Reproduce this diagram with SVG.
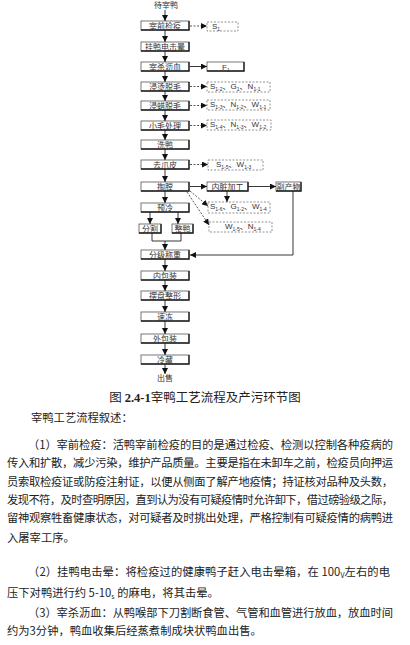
<svg xmlns="http://www.w3.org/2000/svg" width="410" height="645" viewBox="0 0 410 645">
<defs>
<marker id="a" markerUnits="userSpaceOnUse" markerWidth="6" markerHeight="6" refX="6" refY="3" orient="auto"><path d="M0,0 L6,3 L0,6 z" fill="#111"/></marker>
</defs>
<style>
.b{fill:#fff;stroke:#555;stroke-width:0.8}
.sh{fill:none;stroke:#222;stroke-width:1.4}
.d{fill:#fff;stroke:#777;stroke-width:0.8;stroke-dasharray:2,1.5}
.t{font-family:"Noto Sans CJK SC","Noto Sans",sans-serif;font-size:8px;fill:#333;text-anchor:middle}
.e{font-family:"Liberation Sans","Noto Sans CJK SC",sans-serif;font-size:8px;fill:#333}
.s{font-size:5px}
.l{fill:none;stroke:#222;stroke-width:0.9}
.dl{fill:none;stroke:#444;stroke-width:0.9;stroke-dasharray:2,1.5}
.p{font-family:"Noto Sans CJK SC","Liberation Serif",sans-serif;font-size:11.3px;fill:#222}
</style>
<text class="t" x="166" y="8">待宰鸭</text>
<g id="n1"><rect class="b" x="141" y="21" width="48" height="9"/><path class="sh" d="M141,30 H189 V21"/><text class="t" x="165" y="28.5">宰前检疫</text></g>
<g id="n2"><rect class="b" x="141" y="42" width="48" height="9"/><path class="sh" d="M141,51 H189 V42"/><text class="t" x="165" y="49.5">挂鸭电击晕</text></g>
<g id="n3"><rect class="b" x="141" y="62" width="48" height="9"/><path class="sh" d="M141,71 H189 V62"/><text class="t" x="165" y="69.5">宰杀沥血</text></g>
<g id="n4"><rect class="b" x="141" y="82" width="48" height="9"/><path class="sh" d="M141,91 H189 V82"/><text class="t" x="165" y="89.5">浸烫脱毛</text></g>
<g id="n5"><rect class="b" x="141" y="101" width="48" height="9"/><path class="sh" d="M141,110 H189 V101"/><text class="t" x="165" y="108.5">浸蜡脱毛</text></g>
<g id="n6"><rect class="b" x="141" y="121" width="48" height="9"/><path class="sh" d="M141,130 H189 V121"/><text class="t" x="165" y="128.5">小毛处理</text></g>
<g id="n7"><rect class="b" x="141" y="140" width="48" height="9"/><path class="sh" d="M141,149 H189 V140"/><text class="t" x="165" y="147.5">洗鸭</text></g>
<g id="n8"><rect class="b" x="141" y="160" width="48" height="9"/><path class="sh" d="M141,169 H189 V160"/><text class="t" x="165" y="167.5">去爪皮</text></g>
<g id="n9"><rect class="b" x="141" y="182" width="48" height="9"/><path class="sh" d="M141,191 H189 V182"/><text class="t" x="165" y="189.5">掏膛</text></g>
<g id="n10"><rect class="b" x="141" y="203" width="48" height="9"/><path class="sh" d="M141,212 H189 V203"/><text class="t" x="165" y="210.5">预冷</text></g>
<g id="n11"><rect class="b" x="139" y="224" width="22" height="9"/><path class="sh" d="M139,233 H161 V224"/><text class="t" x="150" y="231.5">分割</text></g>
<g id="n12"><rect class="b" x="172" y="224" width="21" height="9"/><path class="sh" d="M172,233 H193 V224"/><text class="t" x="182.5" y="231.5">整鸭</text></g>
<g id="n13"><rect class="b" x="141" y="250" width="48" height="9"/><path class="sh" d="M141,259 H189 V250"/><text class="t" x="165" y="257.5">分级称重</text></g>
<g id="n14"><rect class="b" x="141" y="271" width="48" height="9"/><path class="sh" d="M141,280 H189 V271"/><text class="t" x="165" y="278.5">内包装</text></g>
<g id="n15"><rect class="b" x="141" y="291" width="48" height="9"/><path class="sh" d="M141,300 H189 V291"/><text class="t" x="165" y="298.5">摆盘整形</text></g>
<g id="n16"><rect class="b" x="141" y="312" width="48" height="9"/><path class="sh" d="M141,321 H189 V312"/><text class="t" x="165" y="319.5">速冻</text></g>
<g id="n17"><rect class="b" x="141" y="334" width="48" height="9"/><path class="sh" d="M141,343 H189 V334"/><text class="t" x="165" y="341.5">外包装</text></g>
<g id="n18"><rect class="b" x="141" y="355" width="48" height="9"/><path class="sh" d="M141,364 H189 V355"/><text class="t" x="165" y="362.5">冷藏</text></g>
<text class="t" x="165" y="381">出售</text>
<g id="e1"><rect class="d" x="207" y="22" width="31" height="9"/><text class="e" x="212" y="29">S<tspan class="s" dy="2">1</tspan></text></g>
<g id="f1"><rect class="b" x="207" y="62" width="37" height="9"/><path class="sh" d="M207,71 H244 V62"/><text class="e" x="222" y="69.5">F<tspan class="s" dy="2">1</tspan></text></g>
<g id="e3"><rect class="d" x="207" y="82" width="63" height="10"/><text class="e" x="210" y="89">S<tspan class="s" dy="2">1-2</tspan><tspan dy="-2">、G</tspan><tspan class="s" dy="2">1</tspan><tspan dy="-2">、N</tspan><tspan class="s" dy="2">1-1</tspan></text></g>
<g id="e4"><rect class="d" x="207" y="100" width="63" height="10"/><text class="e" x="210" y="107">S<tspan class="s" dy="2">1-3</tspan><tspan dy="-2">、N</tspan><tspan class="s" dy="2">1-2</tspan><tspan dy="-2">、W</tspan><tspan class="s" dy="2">1-1</tspan></text></g>
<g id="e5"><rect class="d" x="207" y="120" width="64" height="10"/><text class="e" x="210" y="127">S<tspan class="s" dy="2">1-4</tspan><tspan dy="-2">、N</tspan><tspan class="s" dy="2">1-3</tspan><tspan dy="-2">、W</tspan><tspan class="s" dy="2">1-2</tspan></text></g>
<g id="e6"><rect class="d" x="208" y="160" width="55" height="10"/><text class="e" x="216" y="167">S<tspan class="s" dy="2">1-5</tspan><tspan dy="-2">、W</tspan><tspan class="s" dy="2">1-3</tspan></text></g>
<g id="n19"><rect class="b" x="207" y="182" width="41" height="9"/><path class="sh" d="M207,191 H248 V182"/><text class="t" x="227.5" y="189.5">内脏加工</text></g>
<g id="n20"><rect class="b" x="276" y="182" width="25" height="9"/><path class="sh" d="M276,191 H301 V182"/><text class="t" x="288.5" y="189.5">副产物</text></g>
<g id="e7"><rect class="d" x="208" y="202" width="62" height="11"/><text class="e" x="210" y="209">S<tspan class="s" dy="2">1-6</tspan><tspan dy="-2">、G</tspan><tspan class="s" dy="2">1-2</tspan><tspan dy="-2">、W</tspan><tspan class="s" dy="2">1-4</tspan></text></g>
<g id="e8"><rect class="d" x="209" y="222" width="63" height="10"/><text class="e" x="225" y="229">W<tspan class="s" dy="2">1-5</tspan><tspan dy="-2">、N</tspan><tspan class="s" dy="2">1-4</tspan></text></g>
<g id="connectors">
<path class="l" marker-end="url(#a)" d="M165,10 V21"/>
<path class="l" marker-end="url(#a)" d="M165,30 V42"/>
<path class="l" marker-end="url(#a)" d="M165,51 V62"/>
<path class="l" marker-end="url(#a)" d="M165,71 V82"/>
<path class="l" marker-end="url(#a)" d="M165,91 V101"/>
<path class="l" marker-end="url(#a)" d="M165,110 V121"/>
<path class="l" marker-end="url(#a)" d="M165,130 V140"/>
<path class="l" marker-end="url(#a)" d="M165,149 V160"/>
<path class="l" marker-end="url(#a)" d="M165,169 V182"/>
<path class="l" marker-end="url(#a)" d="M165,191 V203"/>
<path class="l" marker-end="url(#a)" d="M150,212 V224"/>
<path class="l" marker-end="url(#a)" d="M178,212 V224"/>
<path class="l" d="M152,233 V241 H181 V233"/>
<path class="l" marker-end="url(#a)" d="M165,241 V250"/>
<path class="l" marker-end="url(#a)" d="M165,259 V271"/>
<path class="l" marker-end="url(#a)" d="M165,280 V291"/>
<path class="l" marker-end="url(#a)" d="M165,300 V312"/>
<path class="l" marker-end="url(#a)" d="M165,321 V334"/>
<path class="l" marker-end="url(#a)" d="M165,343 V355"/>
<path class="l" marker-end="url(#a)" d="M165,364 V374"/>
<path class="dl" marker-end="url(#a)" d="M190,26 H207"/>
<path class="l" marker-end="url(#a)" d="M190,66.5 H207"/>
<path class="dl" marker-end="url(#a)" d="M190,86.5 H207"/>
<path class="dl" marker-end="url(#a)" d="M190,105.5 H207"/>
<path class="dl" marker-end="url(#a)" d="M190,125.5 H207"/>
<path class="dl" marker-end="url(#a)" d="M190,164.5 H208"/>
<path class="l" marker-end="url(#a)" d="M190,186.5 H207"/>
<path class="l" marker-end="url(#a)" d="M248,186.5 H276"/>
<path class="l" marker-end="url(#a)" d="M227,191 V202"/>
<path class="dl" marker-end="url(#a)" d="M190,191 L208,206"/>
<path class="dl" marker-end="url(#a)" d="M187,192 L209,225"/>
<path class="l" marker-end="url(#a)" d="M293,191 V255 H190"/>
</g>
<text x="205" y="402" text-anchor="middle" font-size="12.5" fill="#222" font-family="Noto Sans CJK SC,sans-serif">图 <tspan font-family="Liberation Serif,serif" font-weight="bold">2.4-1</tspan>宰鸭工艺流程及产污环节图</text>
<text class="p" x="31" y="422">宰鸭工艺流程叙述：</text>
<text class="p" x="28" y="449" textLength="365" lengthAdjust="spacing">（1）宰前检疫：活鸭宰前检疫的目的是通过检疫、检测以控制各种疫病的</text>
<text class="p" x="7" y="467" textLength="386" lengthAdjust="spacing">传入和扩散，减少污染，维护产品质量。主要是指在未卸车之前，检疫员向押运</text>
<text class="p" x="7" y="486" textLength="386" lengthAdjust="spacing">员索取检疫证或防疫注射证，以便从侧面了解产地疫情；持证核对品种及头数，</text>
<text class="p" x="7" y="504" textLength="386" lengthAdjust="spacing">发现不符，及时查明原因，直到认为没有可疑疫情时允许卸下，借过磅验级之际，</text>
<text class="p" x="7" y="522" textLength="386" lengthAdjust="spacing">留神观察牲畜健康状态，对可疑者及时挑出处理，严格控制有可疑疫情的病鸭进</text>
<text class="p" x="7" y="542">入屠宰工序。</text>
<text class="p" x="28" y="576" textLength="362" lengthAdjust="spacing">（2）挂鸭电击晕：将检疫过的健康鸭子赶入电击晕箱，在 100<tspan font-size="7" dy="2">V</tspan><tspan dy="-2">左右的电</tspan></text>
<text class="p" x="7" y="597">压下对鸭进行约 5-10<tspan font-size="7" dy="2">s</tspan><tspan dy="-2"> 的麻电，将其击晕。</tspan></text>
<text class="p" x="28" y="617" textLength="365" lengthAdjust="spacing">（3）宰杀沥血：从鸭喉部下刀割断食管、气管和血管进行放血，放血时间</text>
<text class="p" x="7" y="635">约为3分钟，鸭血收集后经蒸煮制成块状鸭血出售。</text>
</svg>
